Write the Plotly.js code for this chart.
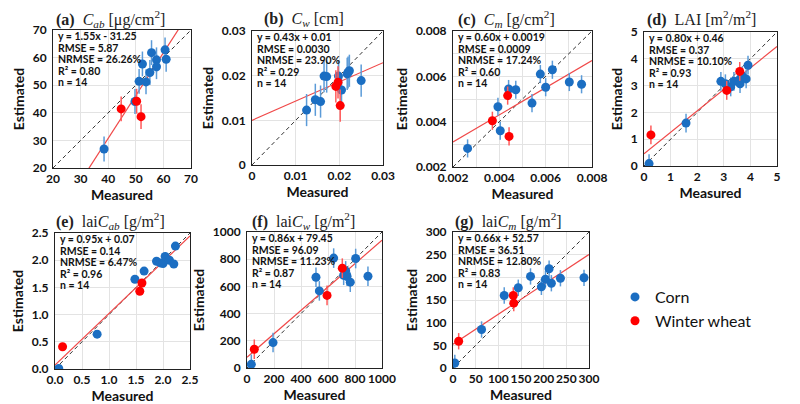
<!DOCTYPE html>
<html>
<head>
<meta charset="utf-8">
<script src="https://cdn.plot.ly/plotly-3.0.1.min.js"></script>
<style>html,body{margin:0;padding:0;background:#fff}#chart{width:800px;height:404px}</style>
</head>
<body>
<div id="chart"></div>
<script>
// ---------- data ----------
const aCornX = [38.5, 49.7, 51.2, 52.4, 53.7, 55.1, 55.7, 57.5, 57.5, 60.6, 61.0];
const aCornY = [26.9, 44.1, 51.4, 57.7, 51.2, 54.6, 61.8, 59.2, 56.7, 62.8, 59.4];
const aWheatX = [44.7, 50.3, 51.9];
const aWheatY = [41.4, 44.2, 38.6];

const bCornX = [0.0125, 0.0145, 0.0157, 0.0165, 0.0171, 0.0198, 0.0205, 0.0218, 0.0220, 0.0223, 0.0250];
const bCornY = [0.0123, 0.0146, 0.0142, 0.0199, 0.0198, 0.0199, 0.0168, 0.0204, 0.0207, 0.0211, 0.0189];
const bWheatX = [0.0192, 0.0197, 0.0202];
const bWheatY = [0.0176, 0.0185, 0.0133];

const cCornX = [0.00263, 0.00394, 0.00404, 0.00440, 0.00471, 0.00541, 0.00577, 0.00600, 0.00629, 0.00702, 0.00755];
const cCornY = [0.00282, 0.00466, 0.00360, 0.00544, 0.00541, 0.00482, 0.00610, 0.00552, 0.00629, 0.00575, 0.00565];
const cWheatX = [0.00370, 0.00436, 0.00442];
const cWheatY = [0.00404, 0.00515, 0.00335];

const dCornX = [0.19, 1.58, 2.89, 3.06, 3.26, 3.38, 3.61, 3.61, 3.69, 3.84, 3.91];
const dCornY = [0.09, 1.60, 3.16, 3.07, 2.95, 3.16, 3.25, 3.07, 3.36, 3.25, 3.76];
const dWheatX = [0.26, 3.11, 3.60];
const dWheatY = [1.16, 2.82, 3.53];

const eCornX = [0.07, 0.78, 1.48, 1.65, 1.88, 1.95, 2.00, 2.04, 2.12, 2.20, 2.23];
const eCornY = [0.01, 0.64, 1.65, 1.80, 1.98, 1.95, 1.94, 2.07, 2.00, 1.93, 2.26];
const eWheatX = [0.14, 1.57, 1.61];
const eWheatY = [0.41, 1.43, 1.58];

const fCornX = [32, 193, 511, 536, 642, 716, 731, 741, 765, 805, 896];
const fCornY = [27, 187, 667, 567, 808, 682, 714, 675, 631, 805, 675];
const fWheatX = [54, 593, 706];
const fWheatY = [138, 534, 734];

const gCornX = [4, 63, 113, 144, 171, 195, 204, 212, 217, 237, 289];
const gCornY = [11, 85, 160, 177, 202, 179, 196, 219, 187, 198, 199];
const gWheatX = [12.5, 133, 134];
const gWheatY = [59, 160, 143];

// error bar half-lengths (per panel)
const errBars = [4.5, 0.0036, 0.0004, 0.35, 0.07, 72, 18];

// regression fits: slope, intercept
const fitSlope = [1.55, 0.43, 0.60, 0.80, 0.95, 0.86, 0.66];
const fitIntercept = [-31.25, 0.01, 0.0019, 0.46, 0.07, 79.45, 52.57];

// statistics text
const statEq = ['y = 1.55x - 31.25', 'y = 0.43x + 0.01', 'y = 0.60x + 0.0019', 'y = 0.80x + 0.46', 'y = 0.95x + 0.07', 'y = 0.86x + 79.45', 'y = 0.66x + 52.57'];
const statRMSE = ['5.87', '0.0030', '0.0009', '0.37', '0.14', '96.09', '36.51'];
const statNRMSE = ['26.26%', '23.90%', '17.24%', '10.10%', '6.47%', '11.23%', '12.80%'];
const statR2 = ['0.80', '0.29', '0.60', '0.93', '0.96', '0.87', '0.83'];
const statN = ['14', '14', '14', '14', '14', '14', '14'];

const panelTitles = [
  '<b>(a)</b>  <i>C</i><sub><i>ab</i></sub> [μg/cm<sup>2</sup>]',
  '<b>(b)</b>  <i>C</i><sub><i>w</i></sub> [cm]',
  '<b>(c)</b>  <i>C</i><sub><i>m</i></sub> [g/cm<sup>2</sup>]',
  '<b>(d)</b>  LAI [m<sup>2</sup>/m<sup>2</sup>]',
  '<b>(e)</b>  lai<i>C</i><sub><i>ab</i></sub> [g/m<sup>2</sup>]',
  '<b>(f)</b>  lai<i>C</i><sub><i>w</i></sub> [g/m<sup>2</sup>]',
  '<b>(g)</b>  lai<i>C</i><sub><i>m</i></sub> [g/m<sup>2</sup>]'
];
const axisRanges = [[20, 70], [0, 0.03], [0.002, 0.008], [0, 5], [0, 2.5], [0, 1000], [0, 300]];
const tickSteps = [10, 0.01, 0.002, 1, 0.5, 200, 50];
const legendLabels = ['Corn', 'Winter wheat'];

// ---------- layout geometry (pixels) ----------
const W = 800, H = 404;
const boxes = [
  {L: 53, R: 191, T: 30, B: 168, tx: 54, ty: 19},
  {L: 252, R: 383, T: 31, B: 165, tx: 262, ty: 19},
  {L: 453, R: 592, T: 31, B: 167, tx: 456, ty: 19},
  {L: 644, R: 777, T: 32, B: 166, tx: 645, ty: 18},
  {L: 55, R: 190, T: 233, B: 369, tx: 54, ty: 221},
  {L: 247, R: 382, T: 232, B: 368, tx: 250, ty: 221},
  {L: 453, R: 589, T: 232, B: 368, tx: 453, ty: 221}
];
const tickFormats = ['', '', '', '', '.1f', '', ''];
const minorSteps = [null, null, 0.001, null, null, null, null];

const corn = [[aCornX, aCornY], [bCornX, bCornY], [cCornX, cCornY], [dCornX, dCornY], [eCornX, eCornY], [fCornX, fCornY], [gCornX, gCornY]];
const wheat = [[aWheatX, aWheatY], [bWheatX, bWheatY], [cWheatX, cWheatY], [dWheatX, dWheatY], [eWheatX, eWheatY], [fWheatX, fWheatY], [gWheatX, gWheatY]];

const BLUE = '#1b6ec2', BLUE_ERR = '#5b9bd8', RED = '#ff0000', RED_ERR = '#ff5a5a';
const sans = 'Lato, "Open Sans", sans-serif';
const serif = '"Liberation Serif", "DejaVu Serif", serif';

const traces = [];
const layout = {
  width: W, height: H,
  margin: {l: 0, r: 0, t: 0, b: 0},
  paper_bgcolor: '#fff', plot_bgcolor: '#fff',
  showlegend: true,
  legend: {x: 615 / W, y: 1 - 280 / H, xanchor: 'left', yanchor: 'top',
           font: {family: sans, size: 16, color: '#111'}, tracegroupgap: 0, itemwidth: 30,
           bgcolor: 'rgba(0,0,0,0)'},
  annotations: []
};

boxes.forEach((b, i) => {
  const n = i + 1;
  const xa = n === 1 ? 'x' : 'x' + n;
  const ya = n === 1 ? 'y' : 'y' + n;
  const rng = axisRanges[i];
  // 1:1 line
  traces.push({x: rng, y: rng, xaxis: xa, yaxis: ya, mode: 'lines', showlegend: false, hoverinfo: 'skip',
               line: {color: '#333', width: 1, dash: '4px,3px'}});
  // regression line
  traces.push({x: rng, y: rng.map(v => fitSlope[i] * v + fitIntercept[i]), xaxis: xa, yaxis: ya, mode: 'lines',
               showlegend: false, hoverinfo: 'skip', line: {color: '#f04848', width: 1.2}});
  // corn
  traces.push({x: corn[i][0], y: corn[i][1], xaxis: xa, yaxis: ya, mode: 'markers', name: legendLabels[0],
               legendgroup: 'corn', showlegend: i === 0,
               marker: {color: BLUE, size: 9},
               error_y: {type: 'constant', value: errBars[i], color: BLUE_ERR, thickness: 1.5, width: 0}});
  // wheat
  traces.push({x: wheat[i][0], y: wheat[i][1], xaxis: xa, yaxis: ya, mode: 'markers', name: legendLabels[1],
               legendgroup: 'wheat', showlegend: i === 0,
               marker: {color: RED, size: 9},
               error_y: {type: 'constant', value: errBars[i], color: RED_ERR, thickness: 1.5, width: 0}});

  const axCommon = {
    range: rng, dtick: tickSteps[i], tick0: rng[0], showgrid: true, gridcolor: '#e3e3e3', gridwidth: 1,
    zeroline: false, showline: true, linecolor: '#222', linewidth: 1, mirror: true,
    ticks: '', tickangle: 0,
    tickfont: {family: sans, size: 12, color: '#111', weight: 'bold'},
    tickformat: tickFormats[i], fixedrange: true
  };
  const xAxis = Object.assign({}, axCommon, {
    domain: [b.L / W, b.R / W], anchor: ya,
    title: {text: 'Measured', font: {family: sans, size: 14, color: '#111', weight: 'bold'}, standoff: 2}
  });
  const yAxis = Object.assign({}, axCommon, {
    domain: [1 - b.B / H, 1 - b.T / H], anchor: xa,
    ticklabelstandoff: 3,
    title: {text: 'Estimated', font: {family: sans, size: 14, color: '#111', weight: 'bold'}, standoff: 4}
  });
  if (minorSteps[i]) {
    xAxis.minor = {dtick: minorSteps[i], tick0: rng[0], showgrid: true, gridcolor: '#e3e3e3', ticks: ''};
    yAxis.minor = {dtick: minorSteps[i], tick0: rng[0], showgrid: true, gridcolor: '#e3e3e3', ticks: ''};
  }
  layout['xaxis' + (n === 1 ? '' : n)] = xAxis;
  layout['yaxis' + (n === 1 ? '' : n)] = yAxis;

  // panel title
  layout.annotations.push({text: panelTitles[i], xref: 'paper', yref: 'paper', x: b.tx / W, y: 1 - b.ty / H,
                           xanchor: 'left', yanchor: 'middle', showarrow: false,
                           font: {family: serif, size: 16, color: '#222'}});
  // stats lines
  const lines = [statEq[i], 'RMSE = ' + statRMSE[i], 'NRMSE = ' + statNRMSE[i], 'R² = ' + statR2[i], 'n = ' + statN[i]];
  lines.forEach((t, k) => {
    layout.annotations.push({text: t, xref: xa + ' domain', yref: ya + ' domain', x: 0, y: 1,
                             xanchor: 'left', yanchor: 'middle', xshift: 3, yshift: -(6 + k * 11.6),
                             showarrow: false, font: {family: sans, size: 10.5, color: '#111', weight: 'bold'}});
  });
});

Plotly.newPlot('chart', traces, layout, {displayModeBar: false, staticPlot: true});
</script>
</body>
</html>
